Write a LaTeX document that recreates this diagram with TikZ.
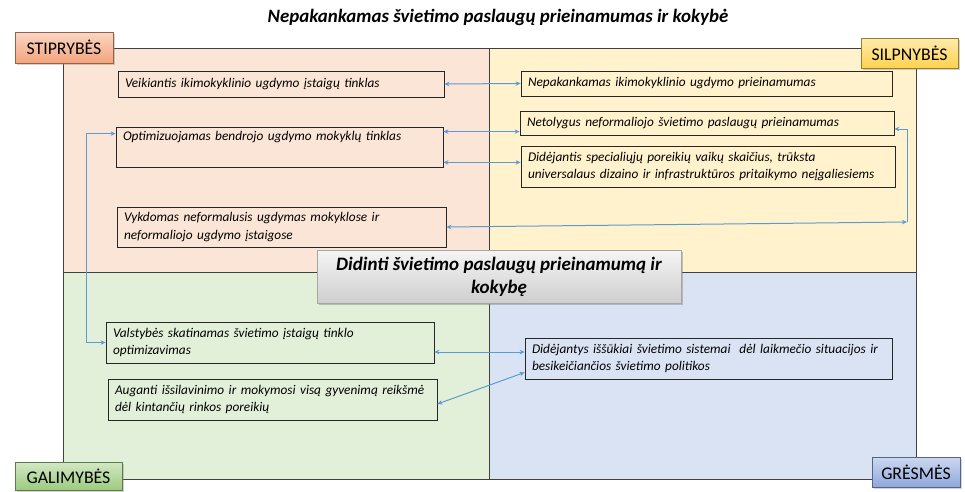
\documentclass[tikz,border=0pt]{standalone}
\usepackage{fontspec}
\setmainfont{Carlito}
\usetikzlibrary{arrows.meta,shadows}

\definecolor{stiprFill}{HTML}{FBE5D6}
\definecolor{silpnFill}{HTML}{FFF2CC}
\definecolor{galimFill}{HTML}{E2F0D9}
\definecolor{gresmFill}{HTML}{DAE3F3}
\definecolor{linkBlue}{HTML}{5B9BD5}
\definecolor{frameGray}{HTML}{404040}
\definecolor{stiprTag}{HTML}{F4A47C}
\definecolor{silpnTag}{HTML}{FFD24D}
\definecolor{galimTag}{HTML}{9CCB7E}
\definecolor{gresmTag}{HTML}{8FA8DC}

\tikzset{
  sbox/.style={draw=black!85, line width=0.8pt, align=left, inner xsep=7pt, inner ysep=2pt,
    font=\fontsize{13.3}{17.5}\selectfont\itshape},
  tag/.style={draw=#1!60!black, line width=0.6pt, inner sep=0pt,
    top color=#1!45, bottom color=#1,
    drop shadow={shadow xshift=1.5pt, shadow yshift=-1.5pt, opacity=0.35},
    font=\fontsize{17.8}{20}\selectfont},
  link/.style={draw=linkBlue, line width=1pt, {Stealth[length=5pt,width=4.5pt]}-{Stealth[length=5pt,width=4.5pt]}},
}

\begin{document}
\begin{tikzpicture}[x=1pt,y=-1pt]
	\useasboundingbox (0,0) rectangle (965,491);
	
	% kvadrantai
	\fill[stiprFill] (63,48) rectangle (489,272);
	\fill[silpnFill] (489,48) rectangle (916,272);
	\fill[galimFill] (63,272) rectangle (489,479);
	\fill[gresmFill] (489,272) rectangle (916,479);
	\draw[frameGray, line width=0.9pt] (63,48) rectangle (916,479);
	\draw[frameGray, line width=0.9pt] (489,48) -- (489,479);
	\draw[frameGray, line width=0.9pt] (63,272) -- (916,272);
	
	\node (title) at (498,17) {\fontsize{18.9}{22}\selectfont\bfseries\itshape Nepakankamas švietimo paslaugų prieinamumas ir kokybė};
	
	% stiprybes
	\node[sbox, text width=312pt, minimum height=26pt] (v1) at (281,84) {Veikiantis ikimokyklinio ugdymo įstaigų tinklas};
	\node[sbox, text width=313pt, minimum height=40pt] (v2) at (279.5,147) {Optimizuojamas bendrojo ugdymo mokyklų tinklas\\\strut};
	\node[sbox, text width=315pt, minimum height=40pt] (v3) at (281.5,227) {Vykdomas neformalusis ugdymas mokyklose ir\\neformaliojo ugdymo įstaigose};
	
	% silpnybes
	\node[sbox, text width=357pt, minimum height=25pt] (s1) at (706.5,83.5) {Nepakankamas ikimokyklinio ugdymo prieinamumas};
	\node[sbox, text width=360pt, minimum height=24pt] (s2) at (707,123) {Netolygus neformaliojo švietimo paslaugų prieinamumas};
	\node[sbox, text width=360pt, minimum height=41pt] (s3) at (708,166.5) {Didėjantis specialiųjų poreikių vaikų skaičius, trūksta\\universalaus dizaino ir infrastruktūros pritaikymo neįgaliesiems};
	
	% galimybes
	\node[sbox, text width=314pt, minimum height=41pt] (g1) at (270,342.5) {Valstybės skatinamas švietimo įstaigų tinklo\\optimizavimas};
	\node[sbox, text width=315pt, minimum height=41pt] (g2) at (272.5,399.5) {Auganti išsilavinimo ir mokymosi visą gyvenimą reikšmė\\dėl kintančių rinkos poreikių};
	
	% gresmes
	\node[sbox, text width=353pt, minimum height=41pt] (t1) at (708.5,358.5) {Didėjantys iššūkiai švietimo sistemai~ dėl laikmečio situacijos ir\\besikeičiančios švietimo politikos};
	
	\node[draw=gray!70, line width=0.6pt, top color=gray!8, bottom color=gray!38,
	      drop shadow={shadow xshift=2pt, shadow yshift=-2pt, opacity=0.45},
	      minimum width=364pt, minimum height=53pt, align=center,
	      font=\fontsize{19}{23}\selectfont\bfseries\itshape] (goal) at (499,276.5)
	      {Didinti švietimo paslaugų prieinamumą ir\\kokybę};
	
	% kampu etiketes
	\node[tag=stiprTag, minimum width=98pt, minimum height=31pt] (S) at (64,47.5) {STIPRYBĖS};
	\node[tag=silpnTag, minimum width=97pt, minimum height=30pt] (W) at (909.5,53) {SILPNYBĖS};
	\node[tag=galimTag, minimum width=107pt, minimum height=28pt] (O) at (68.5,476) {GALIMYBĖS};
	\node[tag=gresmTag, minimum width=88pt, minimum height=30pt] (T) at (916,472) {GRĖSMĖS};
	
	% rysiai
	\coordinate (rloop) at (907,222);
	\draw[link] (v1.east) -- (s1.west);
	\draw[link] ([yshift=-5pt]v2.north east) -- ([yshift=-5pt]v2.north east -| s2.west);
	\draw[link] ([yshift=5pt]v2.south east) -- ([yshift=5pt]v2.south east -| s3.west);
	\draw[link] (v3.east) -- (rloop);
	\draw[link, -{Stealth[length=5pt,width=4.5pt]}] (rloop) |- ([yshift=-6pt]s2.east);
	\draw[link] ([yshift=-7pt]v2.north west) -- ++(-29,0) |- (g1.west);
	\draw[link] ([yshift=6.5pt]t1.west) -- ([yshift=6.5pt]t1.west -| g1.east);
	\draw[link] ([yshift=7pt]t1.south west) -- ([yshift=-4.5pt]g2.east);
\end{tikzpicture}
\end{document}
